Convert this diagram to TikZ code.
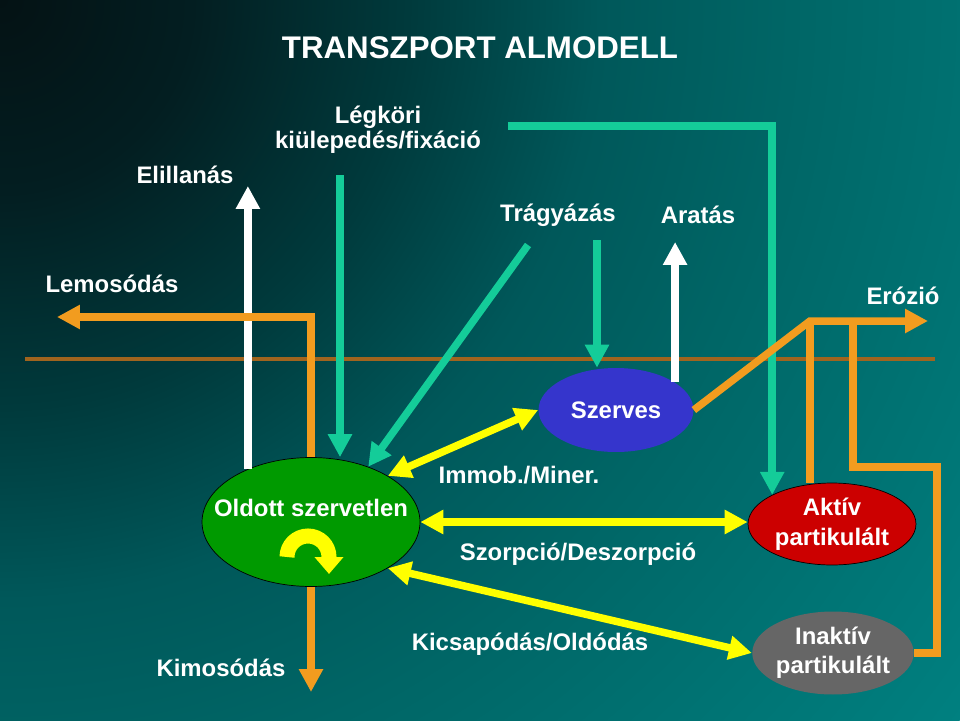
\documentclass[tikz,border=0pt]{standalone}
\usepackage{fontspec}
\setmainfont{Liberation Sans}
\usetikzlibrary{positioning, arrows.meta, shapes.geometric}
\definecolor{bgDark}{HTML}{041214}
\definecolor{bgDeep}{HTML}{031E21}
\definecolor{bgMid}{HTML}{003A3C}
\definecolor{bgSea}{HTML}{00585A}
\definecolor{bgTeal}{HTML}{006666}
\definecolor{bgLight}{HTML}{008080}
\definecolor{soilBrown}{HTML}{A0641E}
\definecolor{flowTeal}{HTML}{14CC99}
\definecolor{flowOrange}{HTML}{F29C1F}
\definecolor{flowYellow}{HTML}{FFFF00}
\definecolor{poolGreen}{HTML}{009A00}
\definecolor{poolBlue}{HTML}{3535CC}
\definecolor{poolRed}{HTML}{CC0000}
\definecolor{poolGrey}{HTML}{666666}
\pgfdeclareradialshading{bgglow}{\pgfpoint{0bp}{0bp}}{color(0bp)=(bgDark); color(4bp)=(bgDeep); color(8.5bp)=(bgMid); color(12.5bp)=(bgSea); color(16.5bp)=(bgTeal); color(25bp)=(bgLight); color(50bp)=(bgLight)}

\begin{document}
\begin{tikzpicture}[x=0.02cm, y=-0.02cm,
    every node/.style={align=center, text=white, font=\fontsize{13.6}{16}\selectfont\bfseries},
    pool/.style={ellipse, draw=black, thin, inner sep=0pt},
    flow/.style={line width=0.15cm, -{Triangle[width=0.46cm, length=0.46cm]}},
    twoway/.style={flow, draw=flowYellow, {Triangle[width=0.46cm, length=0.46cm]}-{Triangle[width=0.46cm, length=0.46cm]}},
    orangeline/.style={line width=0.15cm, draw=flowOrange}]
    % background
    \useasboundingbox (0,0) rectangle (960,720);
    \fill[bgLight] (0,0) rectangle (960,720);
    \begin{scope}
      \clip (0,0) rectangle (960,720);
      \shade[shading=bgglow] (0,0) circle (1200);
    \end{scope}
    \node[font=\fontsize{17.8}{20}\selectfont\bfseries, anchor=base] (title) at (480,58) {TRANSZPORT ALMODELL};
    \draw[soilBrown, line width=0.08cm] (25,359) -- (935,359);

    % pools
    \node[pool, fill=poolGreen, minimum width=4.36cm, minimum height=2.58cm] (oldott) at (311,522) {};
    \node[anchor=base] (oldottText) at ([yshift=0.12cm]oldott.center) {Oldott szervetlen};
    \node[pool, draw=none, fill=poolBlue, minimum width=3.1cm, minimum height=1.68cm] (szerves) at (616,410) {Szerves};
    \node[pool, fill=poolRed, minimum width=3.36cm, minimum height=1.64cm, font=\fontsize{13.6}{17}\selectfont\bfseries] (aktiv) at (832,524) {Aktív\\partikulált};
    \node[pool, draw=none, fill=poolGrey, minimum width=3.22cm, minimum height=1.66cm, font=\fontsize{13.6}{16.5}\selectfont\bfseries] (inaktiv) at (833,653) {Inaktív\\partikulált};

    % labels
    \node[anchor=base] (elillanas) at (185,183) {Elillanás};
    \node[anchor=base] (lemosodas) at (112,292) {Lemosódás};
    \node[font=\fontsize{13.6}{14.2}\selectfont\bfseries] (legkori) at (378,130) {Légköri\\kiülepedés/fixáció};
    \node[anchor=base] (tragyazas) at (558,221) {Trágyázás};
    \node[anchor=base] (aratas) at (698,223) {Aratás};
    \node[anchor=base] (erozio) at (903,304) {Erózió};
    \node[anchor=base] (kimosodas) at (221,676) {Kimosódás};
    \node[anchor=base] (immob) at (519,483) {Immob./Miner.};
    \node[anchor=base] (szorpcio) at (578,560) {Szorpció/Deszorpció};
    \node[anchor=base] (kicsapodas) at (530,650) {Kicsapódás/Oldódás};

    % free ends
    \coordinate (elillanasTip) at (248,186);
    \coordinate (lemosodasTip) at (57,317);
    \coordinate (kimosodasTip) at (311,692);
    \coordinate (legkoriTail) at (340,175);
    \coordinate (fixacioTail) at (508,126);
    \coordinate (tragyaTail) at (528,245);
    \coordinate (tragyaTail2) at (597,240);
    \coordinate (aratasTip) at (672,242);
    \coordinate (erozioKnee) at (810,321);
    \coordinate (erozioTip) at (928,321);
    \coordinate (erozioJoin) at (853,321);
    \coordinate (inaktivLoop) at (937,467);

    % flows
    \draw[flow, white] (oldott.140) -- (oldott.140 |- elillanasTip);
    \draw[flow, flowOrange] (oldott.north) |- (lemosodasTip);
    \draw[flow, flowOrange] (oldott.south) -- (kimosodasTip);
    \draw[flow, flowTeal] (legkoriTail) -- (legkoriTail |- oldott.north);
    \draw[flow, flowTeal] (fixacioTail) -| (aktiv.154);
    \draw[flow, flowTeal] (tragyaTail) -- (oldott.44);
    \draw[flow, flowTeal] (tragyaTail2) -- (tragyaTail2 |- szerves.north);
    \draw[flow, white] (szerves.25) -- (szerves.25 |- aratasTip);
    \draw[flow, flowOrange] (szerves.east) -- (erozioKnee) -- (erozioTip);
    \draw[orangeline] (aktiv.north -| erozioKnee) -- (erozioKnee);
    \draw[orangeline] (erozioJoin) |- (inaktivLoop) |- (inaktiv.east);
    \draw[twoway] (oldott.31) -- (szerves.west);
    \draw[twoway] (oldott.east) -- (oldott.east -| aktiv.west);
    \draw[twoway] (oldott.-31) -- (inaktiv.west);
    \draw[flowYellow, line width=0.3cm, -{Triangle[width=0.56cm, length=0.34cm]}] ([xshift=-0.48cm, yshift=-0.7cm]oldott.center) arc (180:360:21) -- ++(0,17);
\end{tikzpicture}
\end{document}
